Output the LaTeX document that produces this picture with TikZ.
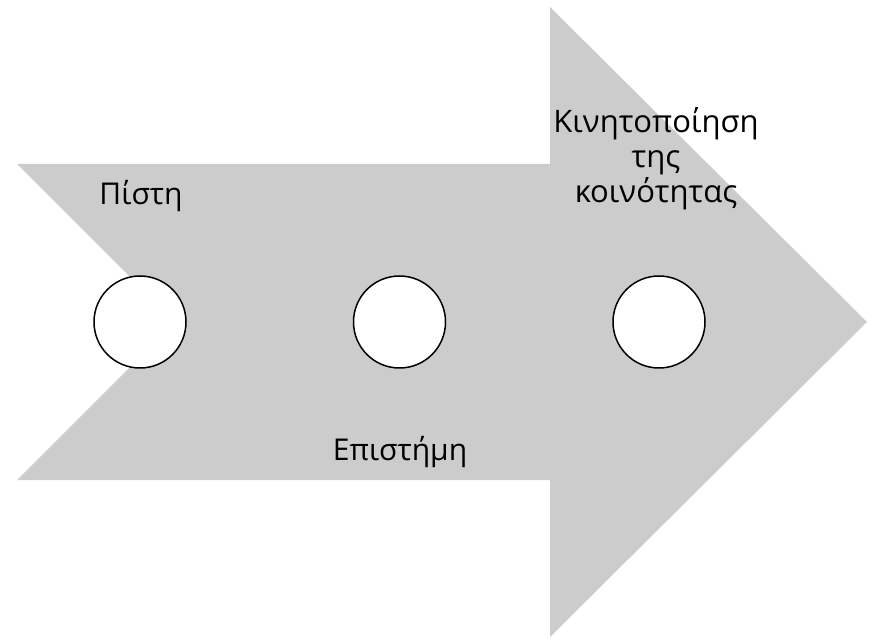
\documentclass[tikz,border=0pt]{standalone}
\usepackage{fontspec}
\setmainfont{Open Sans}
\definecolor{arrowgray}{HTML}{CCCCCC}
\begin{document}
\begin{tikzpicture}
                [x=1pt,y=1pt,node distance=259.5pt,
                 ring/.style={draw,circle,fill=white,line width=1.5pt,minimum size=92pt,inner sep=0pt},
                 word/.style={font=\fontsize{30}{35}\selectfont,inner sep=0pt,align=center}]
                \useasboundingbox (0,0) rectangle (876,638);
                \coordinate (p1) at (17,474);
                \coordinate (p2) at (550,474);
                \coordinate (p3) at (550,631);
                \coordinate (p4) at (867,316);
                \coordinate (p5) at (550,1);
                \coordinate (p6) at (550,158);
                \coordinate (p7) at (17,158);
                \coordinate (p8) at (175,316);
                \fill[arrowgray] (p1) -- (p2) -- (p3) -- (p4) -- (p5) -- (p6) -- (p7) -- (p8) -- cycle;

                \node[ring] (c1) at (140,316) {};
                \node[ring] (c2) [right of=c1] {};
                \node[ring] (c3) [right of=c2] {};

                \node[word,anchor=base] (faith) at (141,433) {Πίστη};
                \node[word,anchor=base] (science) at (400,178) {Επιστήμη};
                \node[word,anchor=center,font=\fontsize{31}{35}\selectfont] (community) at (656,479) {Κινητοποίηση\\της\\κοινότητας};
            \end{tikzpicture}
\end{document}
